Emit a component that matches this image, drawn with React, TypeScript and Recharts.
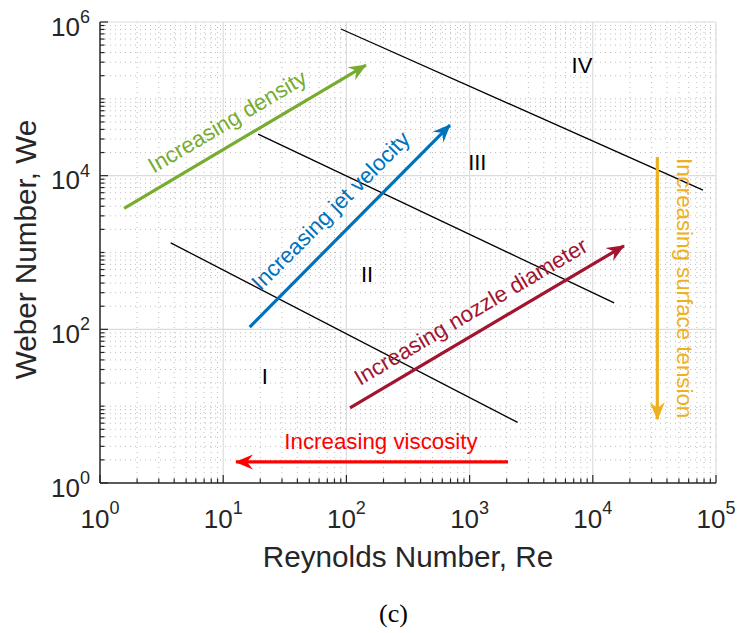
import React from 'react';
import { LineChart, Line, XAxis, YAxis, ReferenceLine, ReferenceDot, Label } from 'recharts';

// ---------- axis ticks ----------
const reMajorTicks = [1, 10, 100, 1000, 10000, 100000];
const reMinorTicks = [2, 3, 4, 5, 6, 7, 8, 9, 20, 30, 40, 50, 60, 70, 80, 90, 200, 300, 400, 500, 600, 700, 800, 900, 2000, 3000, 4000, 5000, 6000, 7000, 8000, 9000, 20000, 30000, 40000, 50000, 60000, 70000, 80000, 90000];
const weMajorTicks = [1, 100, 10000, 1000000];
const weMinorTicks = [2, 3, 4, 5, 6, 7, 8, 9, 10, 20, 30, 40, 50, 60, 70, 80, 90, 200, 300, 400, 500, 600, 700, 800, 900, 1000, 2000, 3000, 4000, 5000, 6000, 7000, 8000, 9000, 20000, 30000, 40000, 50000, 60000, 70000, 80000, 90000, 100000, 200000, 300000, 400000, 500000, 600000, 700000, 800000, 900000];

// ---------- regime boundaries (black lines) ----------
const boundaryI_II = [{ re: 3.75, we: 1336 }, { re: 2456, we: 6.14 }];
const boundaryII_III = [{ re: 19.2, we: 34800 }, { re: 14900, we: 221 }];
const boundaryIII_IV = [{ re: 90.4, we: 810000 }, { re: 78400, we: 6500 }];

// ---------- arrows ----------
const densityArrow = [{ re: 1.57, we: 3750 }, { re: 144, we: 275000 }];
const jetVelocityArrow = [{ re: 16.4, we: 107 }, { re: 693, we: 45600 }];
const nozzleArrow = [{ re: 107, we: 9.5 }, { re: 17900, we: 1222 }];
const viscosityArrow = [{ re: 2050, we: 1.88 }, { re: 12.7, we: 1.88 }];
const surfaceTensionArrow = [{ re: 33400, we: 17500 }, { re: 33400, we: 6.78 }];

// ---------- annotation anchors ----------
const arrowLabels = ['Increasing density', 'Increasing jet velocity', 'Increasing nozzle diameter', 'Increasing viscosity', 'Increasing surface tension'];
const arrowLabelRe = [11.6, 82.3, 1100, 191, 48000];
const arrowLabelWe = [41700, 2980, 140, 2.75, 344];
const regimeLabels = ['I', 'II', 'III', 'IV'];
const regimeLabelRe = [21.8, 147, 1155, 8170];
const regimeLabelWe = [19.2, 412, 11830, 215000];

const GREEN = '#77AC30';
const BLUE = '#0072BD';
const MAROON = '#A2142F';
const RED = '#FF0000';
const ORANGE = '#EDB120';
const labelColors = [GREEN, BLUE, MAROON, RED, ORANGE];
const labelAngles = [-30.6, -45, -30.6, 0, 90];
const AXIS = '#262626';
const SANS = '"Liberation Sans", Arial, Helvetica, sans-serif';

const isMajor = (v: number, majors: number[]) => majors.some((m) => Math.abs(Math.log10(v) - Math.log10(m)) < 1e-6);

function XTick(props: any) {
  const { x, y, payload } = props;
  const v = payload.value;
  const major = isMajor(v, reMajorTicks);
  const exp = Math.round(Math.log10(v));
  return (
    <g>
      <line x1={x} y1={y} x2={x} y2={y - (major ? 8 : 4.5)} stroke={AXIS} strokeWidth={1.2} />
      {major && (
        <text x={x} y={y + 44.7} textAnchor="middle" fontFamily={SANS} fontSize={26} fill={AXIS}>
          <tspan>10</tspan>
          <tspan dy={-13.5} fontSize={18}>{exp}</tspan>
        </text>
      )}
    </g>
  );
}

function YTick(props: any) {
  const { x, y, payload } = props;
  const v = payload.value;
  const major = isMajor(v, weMajorTicks);
  const exp = Math.round(Math.log10(v));
  return (
    <g>
      <line x1={x} y1={y} x2={x + (major ? 8 : 4.5)} y2={y} stroke={AXIS} strokeWidth={1.2} />
      {major && (
        <text x={x - 10} y={y + 13.6} textAnchor="end" fontFamily={SANS} fontSize={26} fill={AXIS}>
          <tspan>10</tspan>
          <tspan dy={-12.5} fontSize={18}>{exp}</tspan>
        </text>
      )}
    </g>
  );
}

const arrowMarker = (id: string, color: string) => (
  <marker id={id} viewBox="-20 -9 22 18" refX={0} refY={0} markerWidth={22} markerHeight={18} markerUnits="userSpaceOnUse" orient="auto">
    <path d="M1,0 L-17,-7.5 L-11,0 L-17,7.5 Z" fill={color} />
  </marker>
);

export default function App() {
  const reAll = [...reMajorTicks, ...reMinorTicks].sort((a, b) => a - b);
  const weAll = [...weMajorTicks, ...weMinorTicks].sort((a, b) => a - b);
  const xGridMajor = [10, 100, 1000, 10000, 100000];
  const yGridMajor = [100, 10000, 1000000];
  return (
    <div style={{ position: 'absolute', left: 0, top: 0, width: 738, height: 633, background: '#fff' }}>
      <LineChart width={738} height={633} margin={{ top: 22, right: 22, left: 10, bottom: 60 }}>
        <defs>
          {arrowMarker('ah-green', GREEN)}
          {arrowMarker('ah-blue', BLUE)}
          {arrowMarker('ah-maroon', MAROON)}
          {arrowMarker('ah-red', RED)}
          {arrowMarker('ah-orange', ORANGE)}
        </defs>
        <XAxis
          type="number"
          dataKey="re"
          scale="log"
          domain={[1, 100000]}
          allowDataOverflow
          ticks={reAll}
          interval={0}
          tickLine={false}
          tickSize={0}
          tickMargin={0}
          tick={(p: any) => <XTick {...p} />}
          axisLine={{ stroke: AXIS, strokeWidth: 1.5 }}
          height={90}
        >
          <Label
            content={(props: any) => {
              const vb = props.viewBox;
              return (
                <g>
                  <text x={vb.x + vb.width / 2} y={vb.y + 84} textAnchor="middle" fontFamily={SANS} fontSize={29.7} fill={AXIS}>
                    Reynolds Number, Re
                  </text>
                  <text x={vb.x + vb.width / 2 - 14.5} y={vb.y + 138.7} textAnchor="middle" fontFamily='"Liberation Serif", "Times New Roman", serif' fontSize={26} fill="#000">
                    (c)
                  </text>
                </g>
              );
            }}
          />
        </XAxis>
        <YAxis
          type="number"
          dataKey="we"
          scale="log"
          domain={[1, 1000000]}
          allowDataOverflow
          ticks={weAll}
          interval={0}
          tickLine={false}
          tickSize={0}
          tickMargin={0}
          tick={(p: any) => <YTick {...p} />}
          axisLine={{ stroke: AXIS, strokeWidth: 1.5 }}
          width={90}
        >
          <Label
            content={(props: any) => {
              const vb = props.viewBox;
              const cx = vb.x + 25.5;
              const cy = vb.y + vb.height / 2 - 3;
              return (
                <text x={cx} y={cy} transform={`rotate(-90 ${cx} ${cy})`} textAnchor="middle" fontFamily={SANS} fontSize={29.7} fill={AXIS}>
                  Weber Number, We
                </text>
              );
            }}
          />
        </YAxis>

        {reMinorTicks.map((v) => (
          <ReferenceLine key={`xm${v}`} x={v} stroke="#bdbdbd" strokeWidth={1} strokeDasharray="1 4" />
        ))}
        {weMinorTicks.map((v) => (
          <ReferenceLine key={`ym${v}`} y={v} stroke="#bdbdbd" strokeWidth={1} strokeDasharray="1 4" />
        ))}
        {xGridMajor.map((v) => (
          <ReferenceLine key={`xM${v}`} x={v} stroke="#dcdcdc" strokeWidth={1.2} />
        ))}
        {yGridMajor.map((v) => (
          <ReferenceLine key={`yM${v}`} y={v} stroke="#dcdcdc" strokeWidth={1.2} />
        ))}

        <Line data={boundaryI_II} dataKey="we" type="linear" stroke="#000" strokeWidth={1.3} dot={false} isAnimationActive={false} />
        <Line data={boundaryII_III} dataKey="we" type="linear" stroke="#000" strokeWidth={1.3} dot={false} isAnimationActive={false} />
        <Line data={boundaryIII_IV} dataKey="we" type="linear" stroke="#000" strokeWidth={1.3} dot={false} isAnimationActive={false} />

        <Line data={densityArrow} dataKey="we" type="linear" stroke={GREEN} strokeWidth={3.2} dot={false} isAnimationActive={false} markerEnd="url(#ah-green)" />
        <Line data={jetVelocityArrow} dataKey="we" type="linear" stroke={BLUE} strokeWidth={3.2} dot={false} isAnimationActive={false} markerEnd="url(#ah-blue)" />
        <Line data={nozzleArrow} dataKey="we" type="linear" stroke={MAROON} strokeWidth={3.2} dot={false} isAnimationActive={false} markerEnd="url(#ah-maroon)" />
        <Line data={viscosityArrow} dataKey="we" type="linear" stroke={RED} strokeWidth={3.2} dot={false} isAnimationActive={false} markerEnd="url(#ah-red)" />
        <Line data={surfaceTensionArrow} dataKey="we" type="linear" stroke={ORANGE} strokeWidth={3.2} dot={false} isAnimationActive={false} markerEnd="url(#ah-orange)" />

        {arrowLabels.map((t, i) => (
          <ReferenceDot
            key={t}
            x={arrowLabelRe[i]}
            y={arrowLabelWe[i]}
            r={0}
            shape={(p: any) => (
              <text
                x={p.cx}
                y={p.cy}
                transform={`rotate(${labelAngles[i]} ${p.cx} ${p.cy})`}
                textAnchor="middle"
                fontFamily={SANS}
                fontSize={22.3}
                fill={labelColors[i]}
              >
                {t}
              </text>
            )}
          />
        ))}
        {regimeLabels.map((t, i) => (
          <ReferenceDot
            key={t}
            x={regimeLabelRe[i]}
            y={regimeLabelWe[i]}
            r={0}
            shape={(p: any) => (
              <text x={p.cx} y={p.cy} textAnchor="middle" fontFamily={SANS} fontSize={22} fill="#000">
                {t}
              </text>
            )}
          />
        ))}
      </LineChart>
    </div>
  );
}
